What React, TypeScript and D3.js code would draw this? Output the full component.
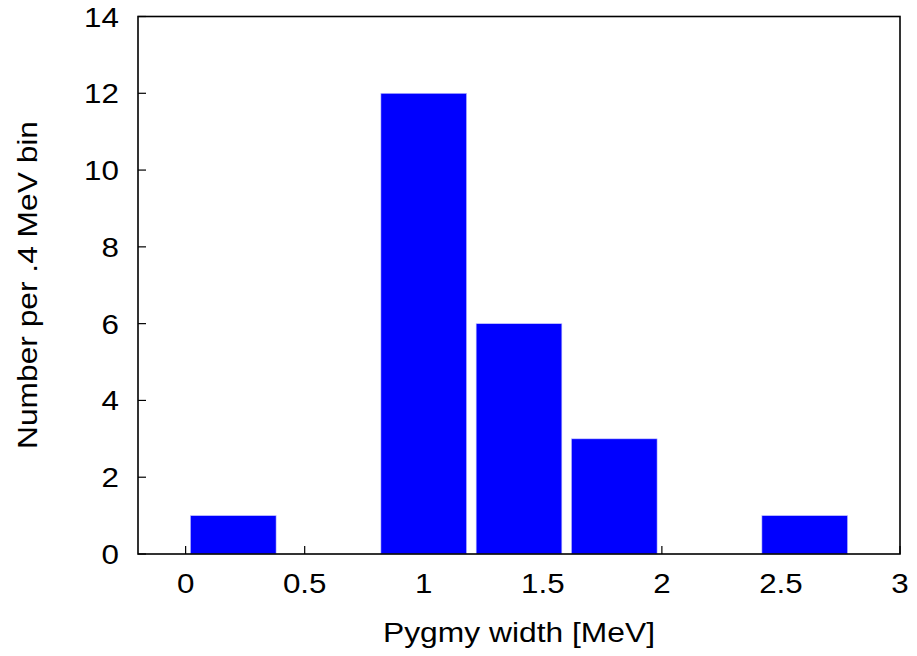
import React from "react";
import * as d3 from "d3";

const binStarts = [0, 0.4, 0.8, 1.2, 1.6, 2.0, 2.4];
const counts = [1, 0, 12, 6, 3, 0, 1];
const binWidth = 0.4;
const xTicks = [0, 0.5, 1, 1.5, 2, 2.5, 3];
const yTicks = [0, 2, 4, 6, 8, 10, 12, 14];
const xTitle = "Pygmy width [MeV]";
const yTitle = "Number per .4 MeV bin";

const W = 917;
const H = 656;
const left = 138;
const right = 900;
const top = 16.5;
const bottom = 554;

export default function App() {
  const x = d3.scaleLinear().domain([-0.2, 3]).range([left, right]);
  const y = d3.scaleLinear().domain([0, 14]).range([bottom, top]);
  const font = "Arial, 'Liberation Sans', Helvetica, sans-serif";
  const tickFs = 28;
  const sx = 1.12;
  const gap = 0.02;

  return (
    <svg
      width={W}
      height={H}
      style={{ position: "absolute", left: 0, top: 0, background: "#fff" }}
      fontFamily={font}
    >
      <rect x={0} y={0} width={W} height={H} fill="#fff" />
      {xTicks.map((t) => (
        <line key={"xt" + t} x1={x(t)} x2={x(t)} y1={bottom} y2={bottom - 8} stroke="#000" strokeWidth={1.2} />
      ))}
      {yTicks.map((t) => (
        <line key={"yt" + t} x1={left} x2={left + 8} y1={y(t)} y2={y(t)} stroke="#000" strokeWidth={1.2} />
      ))}
      {binStarts.map((s, i) =>
        counts[i] > 0 ? (
          <rect
            key={"b" + i}
            x={x(s + gap)}
            y={y(counts[i])}
            width={x(s + binWidth - gap) - x(s + gap)}
            height={y(0) - y(counts[i])}
            fill="#0000ff"
            stroke="#c8c8ff"
            strokeWidth={0.6}
          />
        ) : null
      )}
      <rect x={left} y={top} width={right - left} height={bottom - top} fill="none" stroke="#000" strokeWidth={1.6} />
      {xTicks.map((t) => (
        <text
          key={"xl" + t}
          transform={`translate(${x(t)},${593}) scale(${sx},1)`}
          textAnchor="middle"
          fontSize={tickFs}
          fill="#000"
        >
          {String(t)}
        </text>
      ))}
      {yTicks.map((t) => (
        <text
          key={"yl" + t}
          transform={`translate(${119},${y(t) + 10}) scale(${sx},1)`}
          textAnchor="end"
          fontSize={tickFs}
          fill="#000"
        >
          {String(t)}
        </text>
      ))}
      <text
        x={(left + right) / 2}
        y={642}
        textAnchor="middle"
        fontSize={27}
        textLength={272}
        lengthAdjust="spacingAndGlyphs"
        fill="#000"
      >
        {xTitle}
      </text>
      <text
        transform={`translate(${37},${285}) rotate(-90)`}
        textAnchor="middle"
        fontSize={27}
        textLength={328}
        lengthAdjust="spacingAndGlyphs"
        fill="#000"
      >
        {yTitle}
      </text>
    </svg>
  );
}
